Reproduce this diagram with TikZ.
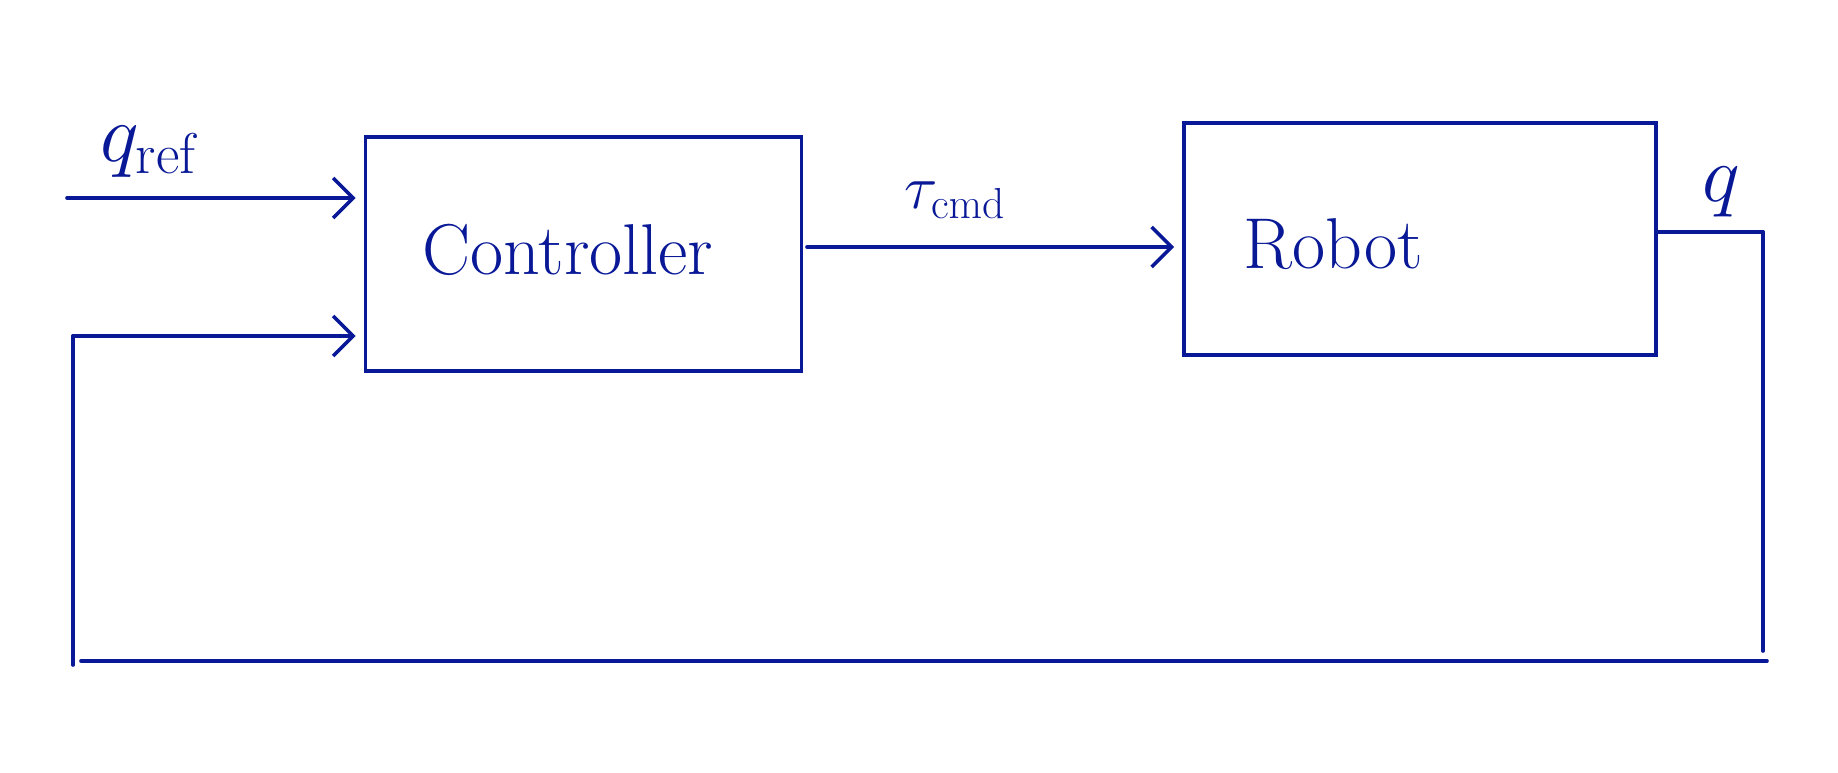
\RequirePackage{fix-cm}
\documentclass[tikz,border=0pt]{standalone}
\usetikzlibrary{arrows.meta,calc}
\definecolor{pen}{RGB}{8,24,150}
\tikzset{
  blockbox/.style={draw=pen,line width=1.8pt,minimum width=218pt,minimum height=117pt,inner sep=0pt},
  wire/.style={draw=pen,line width=1.8pt,line cap=round},
  sig/.style={wire,-{Straight Barb[length=10pt,width=20pt,line width=1.8pt]}},
  txt/.style={text=pen,font=\fontsize{36}{40}\selectfont,inner sep=0pt}
}
\begin{document}
\begin{tikzpicture}[x=0.5pt,y=-0.5pt]
\useasboundingbox (0,0) rectangle (1838,772);

%blocks
\node[blockbox] (ctrl) at (583.5,254) {};
\node[blockbox,minimum width=236pt,minimum height=116pt] (robot) at (1420,239) {};
\node[txt] (ctrltext) at (568,250) {Controller};
\node[txt] (robottext) at (1333,244) {Robot};

%signals
\coordinate (qin) at (67,198);
\coordinate (fbin) at (73,336);
\coordinate (tauout) at (807,247);
\coordinate (qout) at (1763,232);
\draw[sig,shorten >=4pt] (qin) -- (qin -| ctrl.west);
\draw[sig,shorten >=4pt] (fbin) -- (fbin -| ctrl.west);
\draw[sig,shorten >=4pt] (tauout) -- (tauout -| robot.west);
\draw[wire] (qout -| robot.east) -- (qout);

%feedback path
\draw[wire] (qout) -- ++(0,419);
\draw[wire] (1767,661) -- (81,661);
\draw[wire] (73,665) -- (fbin);

%labels
\node[txt,font=\fontsize{41}{45}\selectfont] (qref) at (150,152) {$q_{\mathrm{ref}}$};
\node[txt,font=\fontsize{31}{35}\selectfont] (tau) at (955,200) {$\tau_{\mathrm{cmd}}$};
\node[txt,font=\fontsize{40}{44}\selectfont] (q) at (1721,192) {$q$};
\end{tikzpicture}
\end{document}
